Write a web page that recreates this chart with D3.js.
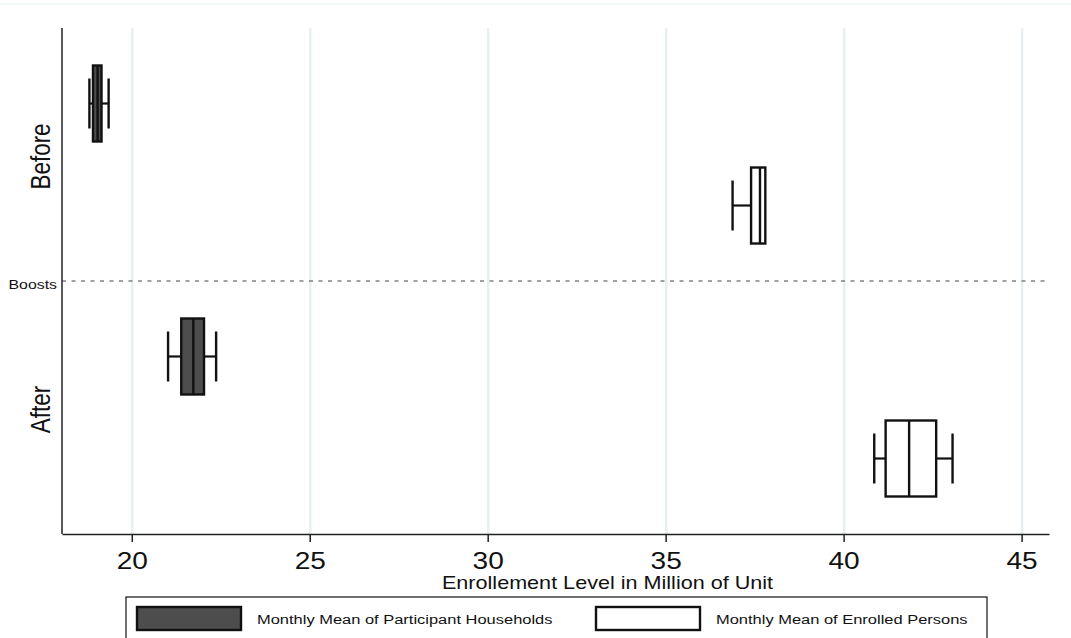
<!DOCTYPE html>
<html>
<head>
<meta charset="utf-8">
<script src="https://cdn.jsdelivr.net/npm/d3@7"></script>
<style>
  html, body { margin: 0; padding: 0; background: #fff; }
  svg { display: block; font-family: "Liberation Sans", Arial, sans-serif; }
</style>
</head>
<body>
<svg id="chart" width="1071" height="638"></svg>
<script>
// Groups on the y axis and the two series drawn in each
const groups = ["Before", "After"];
const seriesNames = ["Monthly Mean of Participant Households", "Monthly Mean of Enrolled Persons"];

// Box statistics, [group][series], millions
const lowerWhisker  = [[18.81, 36.88], [21.02, 40.86]];
const lowerQuartile = [[18.91, 37.40], [21.39, 41.18]];
const medians       = [[19.04, 37.65], [21.73, 41.84]];
const upperQuartile = [[19.15, 37.80], [22.03, 42.60]];
const upperWhisker  = [[19.35, 37.80], [22.37, 43.06]];

const xTicks = [20, 25, 30, 35, 40, 45];
const xDomain = [18.04, 45.77];
const dividerLabel = "Boosts";
const xTitle = "Enrollement Level in Million of Unit";

const seriesFill = ["#4d4d4d", "#ffffff"];
const SX = 1.22; // the picture's text is a bit wide, stretch it horizontally

const svg = d3.select("#chart");
const margin = { left: 62, right: 1049, top: 28, bottom: 534 };

// faint outline along the top of the graph region
svg.append("line")
    .attr("x1", 0).attr("x2", 1071)
    .attr("y1", 4).attr("y2", 4)
    .attr("stroke", "#eef4f4").attr("stroke-width", 1.5);

const x = d3.scaleLinear().domain(xDomain).range([margin.left, margin.right]);
const yGroup = d3.scaleBand().domain(groups).range([margin.top, margin.bottom]);
const ySeries = d3.scalePoint().domain(seriesNames).range([0, yGroup.bandwidth()]).padding(0.74);

//Gridlines
svg.append("g")
    .attr("transform", `translate(0,${margin.bottom})`)
    .call(d3.axisBottom(x).tickValues(xTicks).tickSize(-(margin.bottom - margin.top)).tickFormat(""))
    .call(g => g.select(".domain").remove())
    .selectAll("line")
    .attr("stroke", "#e7eff1")
    .attr("stroke-width", 2.5);

//Dashed line between the groups
svg.append("line")
    .attr("x1", margin.left).attr("x2", margin.right)
    .attr("y1", yGroup("After")).attr("y2", yGroup("After"))
    .attr("stroke", "#444").attr("stroke-width", 1)
    .attr("stroke-dasharray", "4,5.5");

svg.append("text")
    .attr("transform", `translate(57,${yGroup("After") + 7.5}) scale(${SX},1)`)
    .attr("text-anchor", "end")
    .attr("font-size", 13)
    .attr("fill", "#111")
    .text(dividerLabel);

//Group labels
groups.forEach((g) => {
    svg.append("text")
        .attr("transform", `translate(50,${yGroup(g) + yGroup.bandwidth() / 2 + 2}) scale(${SX},1) rotate(-90)`)
        .attr("text-anchor", "middle")
        .attr("font-size", 22.5)
        .attr("fill", "#111")
        .text(g);
});

//X axis
const xAxis = svg.append("g")
    .attr("transform", `translate(0,${margin.bottom})`)
    .call(d3.axisBottom(x).tickValues(xTicks).tickSize(8).tickSizeOuter(0).tickPadding(0).tickFormat(d3.format("d")));
xAxis.select(".domain").attr("stroke", "#222").attr("stroke-width", 1.5);
xAxis.selectAll(".tick line").attr("stroke", "#222").attr("stroke-width", 1.5);
xAxis.selectAll(".tick text")
    .attr("y", 35).attr("dy", 0)
    .attr("transform", `scale(${SX},1)`)
    .attr("font-size", 23)
    .attr("font-family", "Liberation Sans, Arial, sans-serif")
    .attr("fill", "#111");

//Y axis line
svg.append("line")
    .attr("x1", margin.left).attr("x2", margin.left)
    .attr("y1", margin.top).attr("y2", margin.bottom)
    .attr("stroke", "#222").attr("stroke-width", 1.5);

svg.append("text")
    .attr("transform", `translate(607.5,589) scale(${SX},1)`)
    .attr("text-anchor", "middle")
    .attr("font-size", 17.7)
    .attr("fill", "#111")
    .text(xTitle);

//Box plots
const boxHeight = 76;
const capHeight = 50;
const rows = [];
groups.forEach((g, gi) => {
    seriesNames.forEach((s, si) => {
        rows.push({
            group: g, series: s, si: si,
            lo: lowerWhisker[gi][si], q1: lowerQuartile[gi][si], med: medians[gi][si],
            q3: upperQuartile[gi][si], hi: upperWhisker[gi][si]
        });
    });
});

const boxes = svg.selectAll(".box")
    .data(rows)
    .enter()
    .append("g")
    .attr("class", "box")
    .attr("transform", d => `translate(0,${yGroup(d.group) + ySeries(d.series)})`);

const ink = "#111";
boxes.append("line") //whisker stems
    .attr("x1", d => x(d.lo)).attr("x2", d => x(d.q1))
    .attr("stroke", ink).attr("stroke-width", 2.2);
boxes.append("line")
    .attr("x1", d => x(d.q3)).attr("x2", d => x(d.hi))
    .attr("stroke", ink).attr("stroke-width", 2.2);
boxes.append("line") //caps
    .attr("x1", d => x(d.lo)).attr("x2", d => x(d.lo))
    .attr("y1", -capHeight / 2).attr("y2", capHeight / 2)
    .attr("stroke", ink).attr("stroke-width", 2.4);
boxes.filter(d => d.hi > d.q3).append("line")
    .attr("x1", d => x(d.hi)).attr("x2", d => x(d.hi))
    .attr("y1", -capHeight / 2).attr("y2", capHeight / 2)
    .attr("stroke", ink).attr("stroke-width", 2.4);
boxes.append("rect")
    .attr("x", d => x(d.q1))
    .attr("width", d => x(d.q3) - x(d.q1))
    .attr("y", -boxHeight / 2)
    .attr("height", boxHeight)
    .attr("fill", d => seriesFill[d.si])
    .attr("stroke", ink).attr("stroke-width", 2.4);
boxes.append("line") //median
    .attr("x1", d => x(d.med)).attr("x2", d => x(d.med))
    .attr("y1", -boxHeight / 2).attr("y2", boxHeight / 2)
    .attr("stroke", ink).attr("stroke-width", 2.4);

//Legend
const legend = svg.append("g").attr("id", "legend");
legend.append("rect")
    .attr("x", 126).attr("y", 597)
    .attr("width", 861).attr("height", 44)
    .attr("fill", "#fff")
    .attr("stroke", "#111").attr("stroke-width", 1.2);

const legendKeyX = [137, 596];
seriesNames.forEach((s, i) => {
    legend.append("rect")
        .attr("x", legendKeyX[i]).attr("y", 607)
        .attr("width", 104).attr("height", 23)
        .attr("fill", seriesFill[i])
        .attr("stroke", ink).attr("stroke-width", 2.4);
    legend.append("text")
        .attr("transform", `translate(${legendKeyX[i] + 120},623.5) scale(${SX},1)`)
        .attr("font-size", 13.5)
        .attr("fill", "#111")
        .text(s);
});
</script>
</body>
</html>
